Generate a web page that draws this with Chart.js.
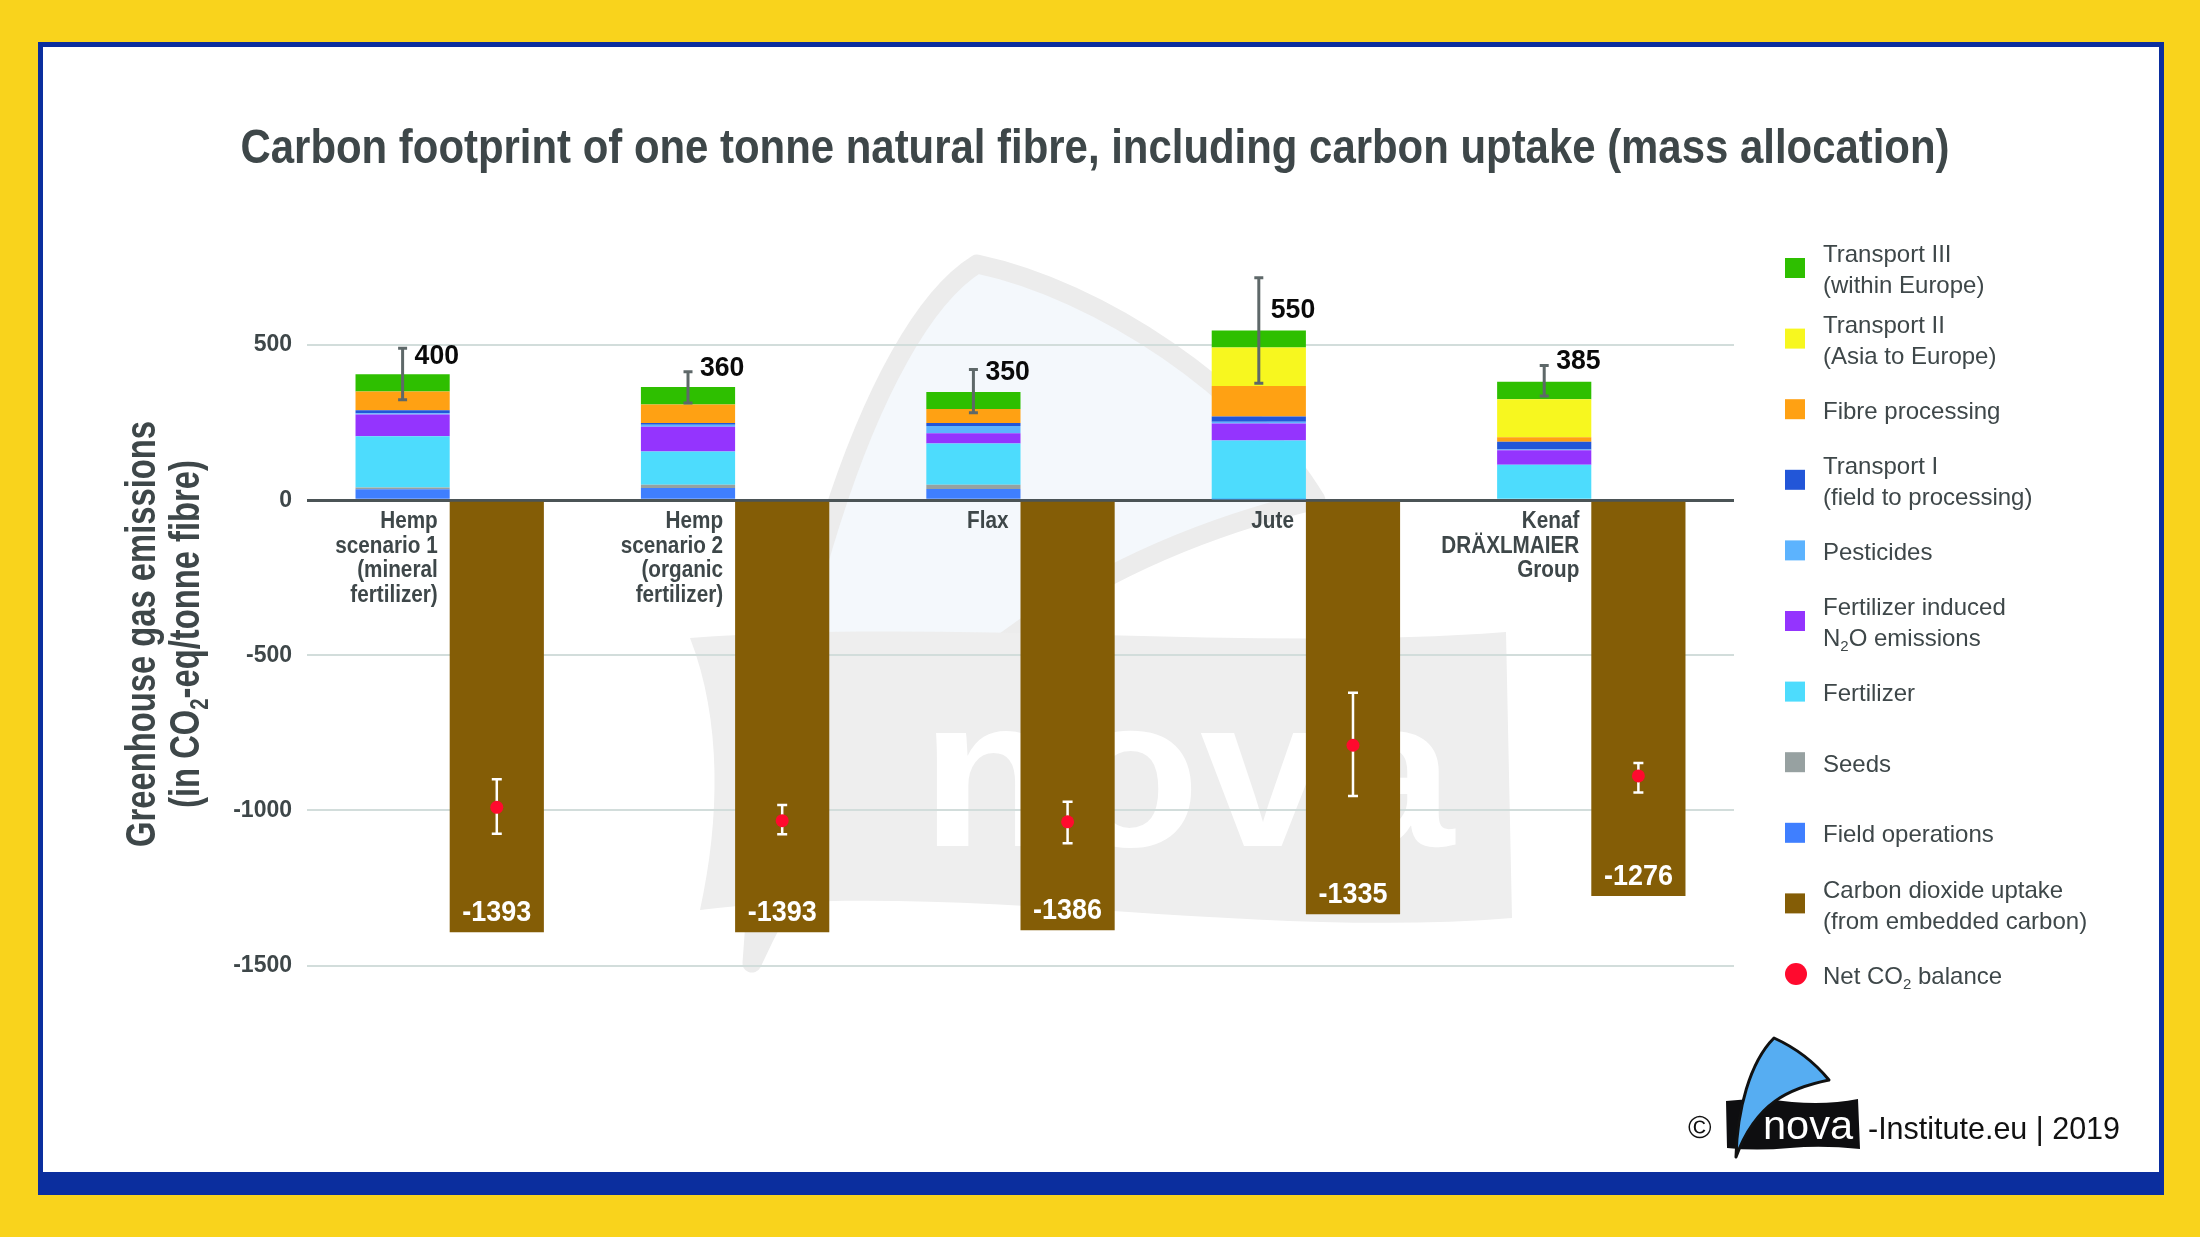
<!DOCTYPE html>
<html>
<head>
<meta charset="utf-8">
<script src="https://cdn.jsdelivr.net/npm/chart.js@4.4.1/dist/chart.umd.min.js"></script>
<style>
  html, body { margin: 0; padding: 0; background: #f9d31c; }
  canvas { display: block; }
</style>
</head>
<body>
<canvas id="chart" width="2200" height="1237" style="width:2200px;height:1237px"></canvas>
<script>
// categories (one array of lines per label)
const categories = [
  ['Hemp', 'scenario 1', '(mineral', 'fertilizer)'],
  ['Hemp', 'scenario 2', '(organic', 'fertilizer)'],
  ['Flax'],
  ['Jute'],
  ['Kenaf', 'DRÄXLMAIER', 'Group']
];

// emission parts, kg CO2-eq per tonne fibre (bottom to top of each stack)
const fieldOperations = [35, 39, 36, 3, 0];
const seeds           = [6, 11, 14, 0, 0];
const fertilizer      = [165, 107, 133, 189, 114];
const n2oEmissions    = [70, 80, 33, 55, 47];
const pesticides      = [4, 6, 23, 6, 2];
const transport1      = [10, 6, 10, 17, 25];
const fibreProcessing = [60, 59, 45, 98, 15];
const transport2      = [0, 0, 0, 124, 122];
const transport3      = [56, 57, 55, 55, 57];

const totals       = [400, 360, 350, 550, 385];
const totalErrLow  = [324, 313, 282, 377, 336];
const totalErrHigh = [490, 414, 421, 717, 434];

const co2Uptake  = [-1393, -1393, -1386, -1335, -1276];
const netBalance = [-990, -1033, -1037, -790, -889];
const netErrLow  = [-1075, -1077, -1106, -954, -942];
const netErrHigh = [-900, -983, -972, -621, -847];

const yTicks = [-1500, -1000, -500, 0, 500];

const titleText = 'Carbon footprint of one tonne natural fibre, including carbon uptake (mass allocation)';
const yTitle = ['Greenhouse gas emissions', '(in CO₂-eq/tonne fibre)'];

const FONT = "'Liberation Sans', Arial, sans-serif";
const INK = '#3e4749';
const NET_COLOR = '#ff0a2e';

function part(label, lines, data, color, stack) {
  return { label, legendLines: lines, data, backgroundColor: color, stack,
           borderWidth: 0, barPercentage: 1, categoryPercentage: 0.66 };
}

const datasets = [
  part('Field operations', ['Field operations'], fieldOperations, '#3f7fff', 'em'),
  part('Seeds', ['Seeds'], seeds, '#97a1a1', 'em'),
  part('Fertilizer', ['Fertilizer'], fertilizer, '#4ddcfd', 'em'),
  part('Fertilizer induced N2O emissions', ['Fertilizer induced', 'N₂O emissions'], n2oEmissions, '#9434fe', 'em'),
  part('Pesticides', ['Pesticides'], pesticides, '#5cb3fe', 'em'),
  part('Transport I (field to processing)', ['Transport I', '(field to processing)'], transport1, '#2256d8', 'em'),
  part('Fibre processing', ['Fibre processing'], fibreProcessing, '#ffa113', 'em'),
  part('Transport II (Asia to Europe)', ['Transport II', '(Asia to Europe)'], transport2, '#f7f71f', 'em'),
  part('Transport III (within Europe)', ['Transport III', '(within Europe)'], transport3, '#2ebf00', 'em'),
  part('Carbon dioxide uptake (from embedded carbon)', ['Carbon dioxide uptake', '(from embedded carbon)'], co2Uptake, '#845d06', 'up')
];

// text helper: handles ₂ as a subscript, optional horizontal squeeze / fit
function drawText(ctx, text, x, y, o) {
  const size = o.size, weight = o.weight || 'normal';
  const parts = [];
  let buf = '';
  for (const ch of text) {
    if (ch === '₂') { if (buf) parts.push({ t: buf }); buf = ''; parts.push({ t: '2', sub: true }); }
    else buf += ch;
  }
  if (buf) parts.push({ t: buf });
  let w = 0;
  for (const p of parts) {
    p.font = weight + ' ' + (p.sub ? Math.round(size * 0.62) : size) + 'px ' + FONT;
    ctx.font = p.font;
    p.w = ctx.measureText(p.t).width;
    w += p.w;
  }
  const sx = o.fit ? o.fit / w : (o.sx || 1);
  ctx.save();
  ctx.translate(x, y);
  if (o.rotate) ctx.rotate(o.rotate);
  ctx.scale(sx, 1);
  let cx = o.align === 'right' ? -w : o.align === 'center' ? -w / 2 : 0;
  ctx.fillStyle = o.color || INK;
  ctx.textBaseline = 'alphabetic';
  ctx.textAlign = 'left';
  for (const p of parts) {
    ctx.font = p.font;
    ctx.fillText(p.t, cx, p.sub ? size * 0.22 : 0);
    cx += p.w;
  }
  ctx.restore();
  return sx;
}

function drawFrame(ctx) {
  ctx.fillStyle = '#f9d31c';
  ctx.fillRect(0, 0, 2200, 1237);
  ctx.fillStyle = '#0b2e9e';
  ctx.fillRect(38, 42, 2126, 1153);
  ctx.fillStyle = '#ffffff';
  ctx.fillRect(43, 47, 2116, 1125);
}

function drawWatermark(ctx) {
  ctx.save();
  // sail
  ctx.beginPath();
  ctx.moveTo(752, 963);
  ctx.bezierCurveTo(770, 650, 870, 330, 977, 264);
  ctx.bezierCurveTo(1100, 290, 1250, 390, 1316, 500);
  ctx.bezierCurveTo(1150, 540, 900, 640, 752, 963);
  ctx.closePath();
  ctx.fillStyle = '#f4f8fc';
  ctx.fill();
  ctx.strokeStyle = '#ececec';
  ctx.lineWidth = 19;
  ctx.lineJoin = 'round';
  ctx.stroke();
  // banner
  ctx.beginPath();
  ctx.moveTo(690, 638);
  ctx.bezierCurveTo(950, 618, 1250, 652, 1506, 632);
  ctx.lineTo(1512, 918);
  ctx.bezierCurveTo(1250, 940, 950, 878, 700, 910);
  ctx.bezierCurveTo(720, 820, 722, 720, 690, 638);
  ctx.closePath();
  ctx.fillStyle = '#eeeeee';
  ctx.fill();
  drawText(ctx, 'nova', 921, 846, { size: 214, weight: 'bold', fit: 533, color: '#ffffff' });
  ctx.restore();
}

function drawLogo(ctx) {
  ctx.save();
  ctx.fillStyle = '#0e0e10';
  ctx.beginPath();
  ctx.moveTo(1726, 1101);
  ctx.quadraticCurveTo(1760, 1097, 1792, 1102);
  ctx.quadraticCurveTo(1828, 1105, 1858, 1099);
  ctx.lineTo(1860, 1149);
  ctx.quadraticCurveTo(1822, 1145, 1790, 1148);
  ctx.quadraticCurveTo(1756, 1151, 1727, 1148);
  ctx.closePath();
  ctx.fill();
  drawText(ctx, 'nova', 1763, 1139, { size: 40, fit: 90, color: '#ffffff' });
  ctx.beginPath();
  ctx.moveTo(1736, 1157);
  ctx.bezierCurveTo(1737, 1110, 1750, 1062, 1774, 1038);
  ctx.bezierCurveTo(1796, 1048, 1816, 1064, 1829, 1080);
  ctx.bezierCurveTo(1790, 1088, 1756, 1102, 1736, 1157);
  ctx.closePath();
  ctx.fillStyle = '#56adf2';
  ctx.fill();
  ctx.strokeStyle = '#111111';
  ctx.lineWidth = 3;
  ctx.lineJoin = 'round';
  ctx.stroke();
  drawText(ctx, '©', 1688, 1138, { size: 32, color: '#111111' });
  drawText(ctx, '-Institute.eu | 2019', 1868, 1139, { size: 32, fit: 252, color: '#111111' });
  ctx.restore();
}

const decorations = {
  id: 'decorations',
  beforeDraw(chart) {
    const ctx = chart.ctx;
    drawFrame(ctx);
    drawWatermark(ctx);
  },
  afterDatasetsDraw(chart) {
    const ctx = chart.ctx;
    const y = chart.scales.y;
    const stackMeta = chart.getDatasetMeta(8);
    const upMeta = chart.getDatasetMeta(9);
    ctx.save();
    for (let i = 0; i < categories.length; i++) {
      // error bar on the emission total
      const xs = stackMeta.data[i].x;
      const hi = y.getPixelForValue(totalErrHigh[i]);
      const lo = y.getPixelForValue(totalErrLow[i]);
      ctx.strokeStyle = '#5e6869';
      ctx.lineWidth = 3;
      ctx.beginPath();
      ctx.moveTo(xs, hi); ctx.lineTo(xs, lo);
      ctx.moveTo(xs - 4.5, hi); ctx.lineTo(xs + 4.5, hi);
      ctx.moveTo(xs - 4.5, lo); ctx.lineTo(xs + 4.5, lo);
      ctx.stroke();
      drawText(ctx, String(totals[i]), xs + 12, y.getPixelForValue(totals[i]) - 22 + 10,
        { size: 28, weight: 'bold', sx: 0.95, color: '#0a0a0a' });

      // net balance with its range, on the uptake bar
      const xu = upMeta.data[i].x;
      const nh = y.getPixelForValue(netErrHigh[i]);
      const nl = y.getPixelForValue(netErrLow[i]);
      ctx.strokeStyle = '#ffffff';
      ctx.lineWidth = 2.5;
      ctx.beginPath();
      ctx.moveTo(xu, nh); ctx.lineTo(xu, nl);
      ctx.moveTo(xu - 5, nh); ctx.lineTo(xu + 5, nh);
      ctx.moveTo(xu - 5, nl); ctx.lineTo(xu + 5, nl);
      ctx.stroke();
      ctx.fillStyle = NET_COLOR;
      ctx.beginPath();
      ctx.arc(xu, y.getPixelForValue(netBalance[i]), 6.5, 0, Math.PI * 2);
      ctx.fill();

      drawText(ctx, String(co2Uptake[i]), xu, y.getPixelForValue(co2Uptake[i]) - 22 + 10.5,
        { size: 29, weight: 'bold', sx: 0.93, color: '#ffffff', align: 'center' });
    }
    ctx.restore();
  },
  afterDraw(chart) {
    const ctx = chart.ctx;
    const stackMeta = chart.getDatasetMeta(8);

    drawText(ctx, titleText, 1095, 163, { size: 49, weight: 'bold', fit: 1709, align: 'center', color: INK });

    // rotated axis title, two lines sharing one squeeze
    const sx = drawText(ctx, yTitle[0], 155, 634,
      { size: 42, weight: 'bold', fit: 426, align: 'center', rotate: -Math.PI / 2, color: INK });
    drawText(ctx, yTitle[1], 199, 634,
      { size: 42, weight: 'bold', sx: sx, align: 'center', rotate: -Math.PI / 2, color: INK });

    // category labels under the emission stacks
    categories.forEach((lines, i) => {
      const bar = stackMeta.data[i];
      const right = bar.x + bar.width / 2 - 12;
      lines.forEach((line, k) => {
        drawText(ctx, line, right, 528 + k * 24.6, { size: 23, weight: 'bold', sx: 0.9, align: 'right', color: INK });
      });
    });

    // legend, top entry = top of the stack
    const items = datasets.slice(0, 9).reverse().concat([datasets[9]]);
    const all = items.map(d => ({ lines: d.legendLines, color: d.backgroundColor, dot: false }));
    all.push({ lines: ['Net CO₂ balance'], color: NET_COLOR, dot: true });
    all.forEach((it, i) => {
      const cy = 268 + i * 70.6;
      ctx.fillStyle = it.color;
      if (it.dot) {
        ctx.beginPath();
        ctx.arc(1796, cy, 11, 0, Math.PI * 2);
        ctx.fill();
      } else {
        ctx.fillRect(1785, cy - 10, 20, 20);
      }
      if (it.lines.length === 1) {
        drawText(ctx, it.lines[0], 1823, cy + 1 + 8.6, { size: 24, color: INK });
      } else {
        drawText(ctx, it.lines[0], 1823, cy - 14.5 + 8.6, { size: 24, color: INK });
        drawText(ctx, it.lines[1], 1823, cy + 16.5 + 8.6, { size: 24, color: INK });
      }
    });

    drawLogo(ctx);
  }
};

new Chart(document.getElementById('chart'), {
  type: 'bar',
  data: { labels: categories, datasets },
  options: {
    responsive: false,
    devicePixelRatio: 1,
    animation: false,
    layout: { padding: { left: 207, right: 466, top: 267.5, bottom: 271.5 } },
    plugins: { legend: { display: false }, tooltip: { enabled: false }, title: { display: false } },
    scales: {
      x: { stacked: true, display: false },
      y: {
        stacked: true,
        min: -1500,
        max: 750,
        afterBuildTicks: s => { s.ticks = yTicks.map(v => ({ value: v })); },
        afterFit: s => { s.width = 100; },
        ticks: {
          font: { family: FONT, weight: 'bold', size: 23 },
          color: INK,
          padding: 15,
          callback: v => String(v)
        },
        grid: {
          drawTicks: false,
          color: c => (c.tick && c.tick.value === 0 ? '#4b5456' : '#d2dddb'),
          lineWidth: c => (c.tick && c.tick.value === 0 ? 3 : 2)
        },
        border: { display: false }
      }
    }
  },
  plugins: [decorations]
});
</script>
</body>
</html>
